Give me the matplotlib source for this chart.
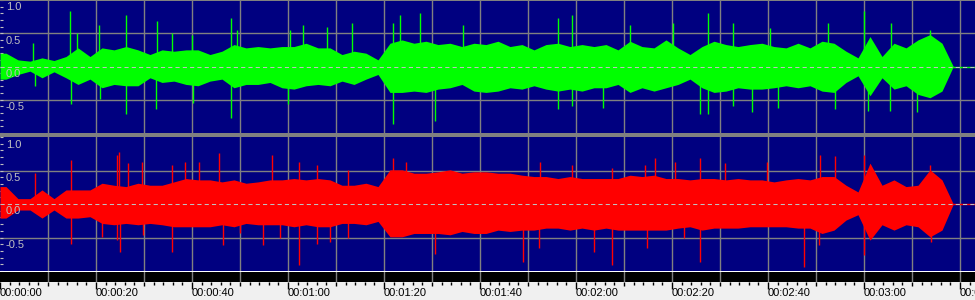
import matplotlib
matplotlib.use('Agg')
import matplotlib.pyplot as plt
import numpy as np

# envelope of each channel, one value per 2.5 s block (0 .. 200 s)
BLOCK = 2.5
END_T = 198.6

green_top = [0.20, 0.10, 0.08, 0.13, 0.09, 0.15, 0.28, 0.15, 0.28, 0.25,
             0.30, 0.25, 0.18, 0.25, 0.23, 0.25, 0.25, 0.18, 0.23, 0.33,
             0.28, 0.30, 0.28, 0.30, 0.30, 0.35, 0.28, 0.28, 0.18, 0.23,
             0.20, 0.10, 0.35, 0.40, 0.35, 0.38, 0.33, 0.35, 0.30, 0.35,
             0.33, 0.38, 0.30, 0.33, 0.25, 0.33, 0.35, 0.30, 0.33, 0.30,
             0.33, 0.25, 0.38, 0.30, 0.28, 0.40, 0.28, 0.18, 0.30, 0.38,
             0.33, 0.30, 0.33, 0.35, 0.30, 0.28, 0.35, 0.28, 0.38, 0.35,
             0.23, 0.13, 0.45, 0.15, 0.35, 0.28, 0.40, 0.48, 0.35, 0.20]
green_bot = [-0.19, -0.12, -0.07, -0.17, -0.08, -0.17, -0.27, -0.19, -0.32, -0.27,
             -0.29, -0.29, -0.17, -0.24, -0.22, -0.27, -0.29, -0.22, -0.19, -0.32,
             -0.27, -0.27, -0.24, -0.32, -0.34, -0.29, -0.27, -0.29, -0.22, -0.27,
             -0.19, -0.12, -0.39, -0.39, -0.37, -0.39, -0.34, -0.32, -0.27, -0.37,
             -0.39, -0.37, -0.32, -0.34, -0.29, -0.34, -0.37, -0.34, -0.37, -0.32,
             -0.32, -0.27, -0.39, -0.32, -0.37, -0.32, -0.27, -0.19, -0.32, -0.39,
             -0.37, -0.32, -0.34, -0.34, -0.32, -0.29, -0.32, -0.29, -0.37, -0.39,
             -0.24, -0.14, -0.44, -0.17, -0.34, -0.29, -0.42, -0.47, -0.37, -0.20]
red_top = [0.26, 0.08, 0.08, 0.21, 0.08, 0.21, 0.21, 0.21, 0.31, 0.28,
           0.26, 0.31, 0.28, 0.28, 0.33, 0.38, 0.36, 0.36, 0.33, 0.36,
           0.31, 0.33, 0.36, 0.36, 0.38, 0.36, 0.38, 0.36, 0.28, 0.28,
           0.31, 0.26, 0.51, 0.51, 0.46, 0.46, 0.48, 0.51, 0.46, 0.48,
           0.48, 0.46, 0.46, 0.43, 0.41, 0.41, 0.38, 0.41, 0.38, 0.38,
           0.38, 0.38, 0.43, 0.41, 0.43, 0.38, 0.38, 0.36, 0.38, 0.38,
           0.36, 0.38, 0.36, 0.36, 0.33, 0.36, 0.38, 0.36, 0.41, 0.41,
           0.28, 0.18, 0.61, 0.28, 0.36, 0.26, 0.28, 0.51, 0.36, 0.20]
red_bot = [-0.21, -0.09, -0.09, -0.21, -0.09, -0.21, -0.21, -0.19, -0.29, -0.31,
           -0.29, -0.31, -0.29, -0.31, -0.34, -0.34, -0.34, -0.34, -0.31, -0.34,
           -0.29, -0.31, -0.31, -0.31, -0.34, -0.31, -0.34, -0.34, -0.29, -0.29,
           -0.31, -0.26, -0.49, -0.49, -0.44, -0.44, -0.44, -0.46, -0.41, -0.44,
           -0.44, -0.39, -0.41, -0.39, -0.39, -0.36, -0.36, -0.39, -0.36, -0.39,
           -0.36, -0.39, -0.39, -0.39, -0.39, -0.39, -0.36, -0.34, -0.39, -0.36,
           -0.36, -0.36, -0.34, -0.34, -0.34, -0.34, -0.36, -0.36, -0.44, -0.39,
           -0.24, -0.16, -0.54, -0.31, -0.39, -0.31, -0.34, -0.49, -0.39, -0.20]

# single peaks sticking out of the envelope (seconds, amplitude)
green_peak_t = [6.9, 14.6, 16.0, 20.6, 26.3, 32.8, 35.8, 39.9, 48.1, 49.3, 60.4, 63.2,
                68.2, 73.4, 81.8, 83.3, 87.5, 96.5, 116.3, 119.2, 131.3, 140.3, 147.4,
                152.8, 160.4, 172.4, 180.0, 185.6, 193.8,
                7.3, 14.7, 20.8, 26.2, 32.6, 40.3, 48.1, 60.1, 81.8, 90.6, 116.3, 119.2,
                125.7, 145.8, 147.6, 152.8, 156.6, 162.0, 174.0, 180.9, 185.4, 191.0]
green_peak_v = [0.35, 0.83, 0.50, 0.63, 0.78, 0.68, 0.50, 0.48, 0.73, 0.55, 0.55, 0.63,
                0.60, 0.65, 0.65, 0.78, 0.80, 0.63, 0.73, 0.78, 0.63, 0.65, 0.80,
                0.65, 0.58, 0.65, 0.83, 0.65, 0.55,
                -0.29, -0.57, -0.49, -0.72, -0.64, -0.55, -0.77, -0.57, -0.87, -0.82, -0.64, -0.59,
                -0.62, -0.72, -0.72, -0.59, -0.69, -0.62, -0.64, -0.67, -0.67, -0.69]
red_peak_t = [7.2, 14.8, 24.3, 24.8, 26.6, 29.5, 35.8, 38.5, 41.5, 45.7, 56.6, 62.2, 66.0,
              72.6, 81.8, 84.6, 112.4, 119.2, 127.6, 134.4, 136.5, 140.6, 145.8, 151.0,
              159.7, 170.8, 174.0, 180.0, 193.8,
              14.8, 21.2, 24.3, 25.0, 29.7, 35.8, 46.4, 49.9, 54.7, 58.3, 62.2, 66.0,
              68.75, 72.6, 90.6, 109.0, 112.2, 123.7, 127.6, 134.7, 142.4, 145.8, 167.4,
              170.6, 179.9, 193.9]
red_peak_v = [0.46, 0.66, 0.73, 0.78, 0.61, 0.63, 0.58, 0.63, 0.63, 0.76, 0.73, 0.63, 0.58,
              0.51, 0.68, 0.63, 0.63, 0.58, 0.53, 0.58, 0.68, 0.63, 0.68, 0.61,
              0.63, 0.73, 0.71, 0.73, 0.58,
              -0.59, -0.49, -0.54, -0.71, -0.46, -0.71, -0.61, -0.44, -0.61, -0.51, -0.91, -0.59,
              -0.56, -0.51, -0.74, -0.86, -0.66, -0.71, -0.91, -0.66, -0.51, -0.86, -0.94,
              -0.61, -0.76, -0.56]

y_labels = ['1.0', '0.5', '0.0', '-0.5']
y_label_pos = [1.0, 0.5, 0.0, -0.5]
time_labels = ['00:00:00', '00:00:20', '00:00:40', '00:01:00', '00:01:20', '00:01:40',
               '00:02:00', '00:02:20', '00:02:40', '00:03:00', '00:03:20']
time_label_pos = [0, 20, 40, 60, 80, 100, 120, 140, 160, 180, 200]

NAVY = '#000080'
GRID = '#808080'
TXT = '#c0c0c0'
T_MAX = 975 / 4.8
W, H = 975, 300


def px(y0, y1):
    # figure rect for a band between pixel rows y0..y1
    return [0, 1 - y1 / H, 1, (y1 - y0) / H]


fig = plt.figure(figsize=(9.75, 3.0), dpi=100, facecolor='#f0f0f0')
plt.rcParams['font.family'] = 'Liberation Sans'

t = np.arange(len(green_top)) * BLOCK + BLOCK / 2


def panel(rect, ylim, top, bot, pk_t, pk_v, color):
    ax = fig.add_axes(rect, facecolor=NAVY)
    ax.set_xlim(0, T_MAX)
    ax.set_ylim(*ylim)
    for s in ax.spines.values():
        s.set_visible(False)
    for x in range(10, 210, 10):
        ax.axvline(x, color=GRID, lw=1, zorder=1)
    ax.axhline(0.5, color=GRID, lw=1, zorder=1)
    ax.axhline(-0.5, color=GRID, lw=1, zorder=1)
    # block centres, closed at 0 s and where the sound stops
    tt = np.concatenate([[0], t[:-1], [END_T]])
    up = np.concatenate([[top[0]], top[:-1], [0]])
    dn = np.concatenate([[bot[0]], bot[:-1], [0]])
    ax.fill_between(tt, dn, up, color=color, lw=0, zorder=2)
    ax.vlines(pk_t, 0, pk_v, color=color, lw=1, zorder=2)
    ax.axhline(0, color=color, lw=1, zorder=2)
    ax.axhline(0, color=TXT, lw=0.75, dashes=(4, 3), zorder=3)
    ax.set_yticks(np.arange(-10, 11) / 10)
    ax.tick_params(axis='y', direction='in', length=2.5, width=0.8, color=TXT,
                   labelleft=False, pad=0)
    ax.tick_params(axis='x', bottom=False, labelbottom=False)
    for lab, v in zip(y_labels, y_label_pos):
        ax.annotate(lab, (0, v), xycoords='data', xytext=(6, -2.5),
                    textcoords='offset pixels', ha='left', va='top',
                    color=TXT, fontsize=8, zorder=4)
    return ax


panel(px(0, 133), (-133 / 67 + 1, 1.0), green_top, green_bot,
      green_peak_t, green_peak_v, '#00ff00')
panel(px(137, 271), (-1.0, 1.0), red_top, red_bot,
      red_peak_t, red_peak_v, '#ff0000')

# gray frame pieces and the black time bar
fig.add_artist(plt.Rectangle((0, 1 - 137 / H), 1, 4 / H, transform=fig.transFigure,
                             color=GRID, lw=0))
fig.add_artist(plt.Rectangle((0, 1 - 1 / H), 1, 1 / H, transform=fig.transFigure,
                             color=GRID, lw=0))
fig.add_artist(plt.Rectangle((0, 1 - 272 / H), 1, 1 / H, transform=fig.transFigure,
                             color='white', lw=0))

axt = fig.add_axes(px(272, 282), facecolor='black')
axt.set_xlim(0, T_MAX)
axt.set_ylim(0, 1)
for s in axt.spines.values():
    s.set_visible(False)
axt.set_xticks([])
axt.set_yticks([])
for x in range(10, 210, 10):
    axt.axvline(x, color=GRID, lw=1)

tr = axt.get_xaxis_transform()
minor = [x for x in range(0, 204, 2) if x % 10]
axt.vlines(minor, -0.25, 0, transform=tr, color='black', lw=1, clip_on=False)
axt.vlines(range(10, 210, 20), -0.35, 0, transform=tr, color='black', lw=1, clip_on=False)
axt.vlines(time_label_pos, -0.65, 0, transform=tr, color='black', lw=1, clip_on=False)
for lab, x in zip(time_labels, time_label_pos):
    axt.text(x, -0.62, lab, transform=tr, ha='left', va='top', fontsize=8,
             color='black', clip_on=False)

fig.savefig('out.png', dpi=100, facecolor=fig.get_facecolor())
